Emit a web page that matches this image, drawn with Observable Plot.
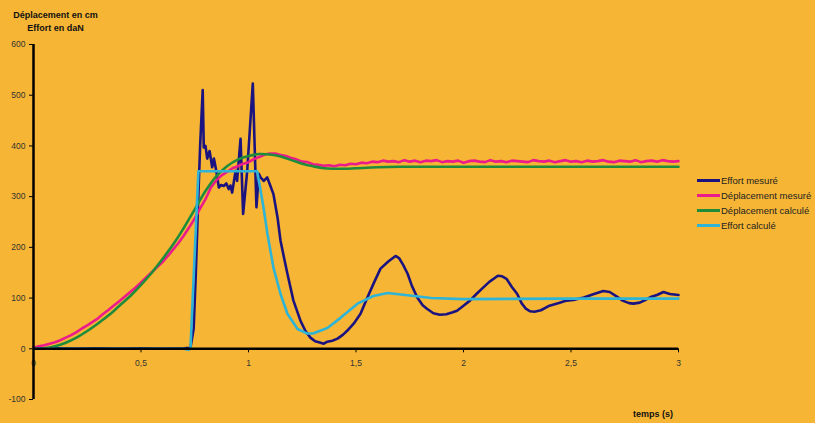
<!DOCTYPE html>
<html><head><meta charset="utf-8">
<script src="https://cdn.jsdelivr.net/npm/d3@7"></script>
<script src="https://cdn.jsdelivr.net/npm/@observablehq/plot@0.6"></script>
<style>
body{margin:0;background:#F6B534;font-family:"Liberation Sans",Arial,sans-serif;}
#wrap{position:relative;width:815px;height:423px;overflow:hidden;background:#F6B534}
#title{position:absolute;left:0;top:9px;width:111px;text-align:center;font-weight:bold;font-size:9px;line-height:12.5px;color:#111}
#legend{position:absolute;left:697px;top:173px;font-size:9.5px;color:#222}
.row{display:flex;align-items:center;height:15px;white-space:nowrap}
.sw{width:23px;height:3px;margin-right:1px}
#xlabel{position:absolute;left:633px;top:409px;font-weight:bold;font-size:9px;color:#111}
</style>
</head><body>
<div id="wrap">
  <div id="chart"></div>
  <div id="title">Déplacement en cm<br>Effort en daN</div>
  <div id="legend"></div>
  <div id="xlabel">temps (s)</div>
</div>
<script>
// ---- data ----
const seriesNames = ["Effort mesuré", "Déplacement mesuré", "Déplacement calculé", "Effort calculé"];
const seriesColors = ["#1B1480", "#EC1B8B", "#1F8C3B", "#2DB4D6"];

const xTicks = [0, 0.5, 1, 1.5, 2, 2.5, 3];
const xTickLabels = ["0", "0,5", "1", "1,5", "2", "2,5", "3"];
const yTicks = [-100, 0, 100, 200, 300, 400, 500, 600];
const yTickLabels = ["-100", "0", "100", "200", "300", "400", "500", "600"];

// Effort mesuré
const effortMesT = [0,0.1,0.2,0.3,0.4,0.5,0.6,0.7,0.73,0.745,0.755,0.765,0.775,0.787,0.792,0.800,0.808,0.819,0.831,0.839,0.850,0.862,0.873,0.885,0.897,0.908,0.916,0.924,0.940,0.947,0.963,0.975,0.994,1.020,1.037,1.048,1.056,1.071,1.087,1.102,1.116,1.135,1.149,1.165,1.181,1.209,1.242,1.265,1.288,1.31,1.335,1.35,1.367,1.39,1.414,1.44,1.46,1.49,1.521,1.55,1.581,1.614,1.65,1.684,1.70,1.72,1.74,1.76,1.785,1.81,1.83,1.86,1.89,1.92,1.95,1.97,2.0,2.03,2.06,2.09,2.12,2.16,2.18,2.20,2.225,2.25,2.27,2.29,2.31,2.33,2.36,2.40,2.44,2.48,2.52,2.56,2.60,2.65,2.68,2.71,2.74,2.77,2.79,2.82,2.84,2.87,2.90,2.93,2.96,3.0];
const effortMesV = [0,1,0,1,0,1,0,1,2,40,150,280,400,510,397,400,375,390,358,375,351,318,323,321,326,315,322,308,351,331,414,266,351,523,279,345,338,331,338,321,305,259,213,180,148,95,55,35,22,15,12,10,14,16,20,28,36,50,69,98,128,158,172,183,179,165,148,124,101,86,79,70,67,68,72,75,85,95,108,120,132,144,143,138,122,108,90,79,74,73,76,85,90,95,97,101,107,114,112,104,95,90,89,91,95,102,106,112,108,106];

// Déplacement mesuré
const deplMesT = [0,0.025,0.05,0.075,0.1,0.125,0.15,0.175,0.2,0.225,0.25,0.275,0.3,0.325,0.35,0.375,0.4,0.425,0.45,0.475,0.5,0.525,0.55,0.575,0.6,0.625,0.65,0.675,0.7,0.725,0.75,0.775,0.8,0.825,0.85,0.875,0.9,0.925,0.95,0.975,1.0,1.025,1.05,1.075,1.1,1.125,1.15,1.175,1.2,1.225,1.25,1.275,1.3,1.325,1.35,1.375,1.4,1.425,1.45,1.475,1.5,1.525,1.55,1.575,1.6,1.625,1.65,1.675,1.7,1.725,1.75,1.775,1.8,1.825,1.85,1.875,1.9,1.925,1.95,1.975,2.0,2.025,2.05,2.075,2.1,2.125,2.15,2.175,2.2,2.225,2.25,2.275,2.3,2.325,2.35,2.375,2.4,2.425,2.45,2.475,2.5,2.525,2.55,2.575,2.6,2.625,2.65,2.675,2.7,2.725,2.75,2.775,2.8,2.825,2.85,2.875,2.9,2.925,2.95,2.975,3.0];
const deplMesV = [2,5,7,10,13,17,22,27,33,40,46,53,60,69,77,86,94,103,112,121,131,141,151,161,171,183,196,209,224,240,257,277,295,318,332,342,349,356,360,365,368,374,378,383,385,385,382,380,376,373,369,368,364,363,361,362,360,363,362,365,364,367,366,369,368,371,369,370,368,372,369,371,368,371,370,372,368,370,369,371,367,370,371,369,368,372,369,370,368,371,370,369,368,372,370,369,371,368,370,372,369,370,368,371,369,370,372,369,368,371,370,369,372,368,370,371,369,372,370,369,370];

// Déplacement calculé
const deplCalcT = [0,0.05,0.1,0.15,0.2,0.25,0.3,0.35,0.4,0.45,0.5,0.55,0.6,0.65,0.7,0.75,0.8,0.85,0.9,0.95,1.0,1.05,1.1,1.15,1.2,1.25,1.3,1.35,1.4,1.45,1.5,1.6,1.7,1.8,2.0,2.5,3.0];
const deplCalcV = [0,1,5,12,22,35,50,66,85,104,126,150,177,206,239,275,311,340,360,373,380,384,383,379,372,365,360,356,355,355,356,358,359,359,359,359,359];

// Effort calculé
const effortCalcT = [0,0.5,0.70,0.72,0.73,0.767,0.9,1.04,1.055,1.07,1.088,1.116,1.149,1.181,1.228,1.274,1.30,1.367,1.428,1.507,1.581,1.647,1.75,1.85,2.0,2.5,3.0];
const effortCalcV = [0,0,0,-2,0,350,350,350,315,278,227,160,108,69,39,30,30,41,61,89,104,110,105,100,98,99,99];

// ---- build ----
const toRows = (T, V) => T.map((t, i) => ({t, v: V[i]}));
const effortMes = toRows(effortMesT, effortMesV);
const deplMes = toRows(deplMesT, deplMesV);
const deplCalc = toRows(deplCalcT, deplCalcV);
const effortCalc = toRows(effortCalcT, effortCalcV);

const chart = Plot.plot({
  width: 815, height: 423,
  marginLeft: 33, marginRight: 137, marginTop: 44, marginBottom: 24,
  style: {background: "transparent", fontFamily: "Liberation Sans, Arial, sans-serif", color: "#333"},
  x: {domain: [0, 3], axis: null},
  y: {domain: [-100, 600], axis: null},
  marks: [
    Plot.axisY({ticks: yTicks, tickFormat: d => yTickLabels[yTicks.indexOf(d)], tickSize: 4, tickPadding: 4, fontSize: 8.5, label: null, stroke: "#000", fill: "#333"}),
    Plot.ruleX(xTicks, {x: d => d, y1: 0, y2: -8, stroke: "#000", strokeWidth: 1}),
    Plot.text(xTicks, {x: d => d, y: 0, dy: 14, text: (d, i) => xTickLabels[i], fontSize: 8.5, fill: "#333"}),
    Plot.line(effortMes, {x: "t", y: "v", stroke: seriesColors[0], strokeWidth: 2.6}),
    Plot.line(deplMes, {x: "t", y: "v", stroke: seriesColors[1], strokeWidth: 2.6}),
    Plot.line(deplCalc, {x: "t", y: "v", stroke: seriesColors[2], strokeWidth: 2.6, curve: "catmull-rom"}),
    Plot.line(effortCalc, {x: "t", y: "v", stroke: seriesColors[3], strokeWidth: 2.6}),
    Plot.ruleY([0], {stroke: "#000", strokeWidth: 2.5}),
    Plot.ruleX([0], {y1: -100, y2: 600, stroke: "#000", strokeWidth: 2.5})
  ]
});
document.getElementById("chart").appendChild(chart);

const legend = document.getElementById("legend");
seriesNames.forEach((name, i) => {
  const row = document.createElement("div");
  row.className = "row";
  const sw = document.createElement("span");
  sw.className = "sw";
  sw.style.background = seriesColors[i];
  const lab = document.createElement("span");
  lab.textContent = name;
  row.appendChild(sw); row.appendChild(lab);
  legend.appendChild(row);
});
</script>
</body></html>
